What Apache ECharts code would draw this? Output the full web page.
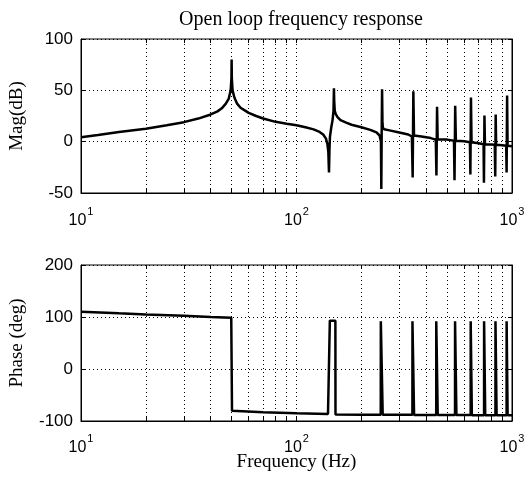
<!DOCTYPE html>
<html>
<head>
<meta charset="utf-8">
<script src="https://cdn.jsdelivr.net/npm/echarts@6/dist/echarts.min.js"></script>
<style>
  html, body { margin: 0; padding: 0; background: #fff; }
  #main { width: 531px; height: 482px; }
</style>
</head>
<body>
<div id="main"></div>
<script>
// magnitude response, frequency in Hz / dB
var magFreq = [10, 12, 15, 20, 25, 30, 35, 40, 43, 45, 47, 48.5, 49.5, 49.9, 50, 50.1, 50.5, 51.5, 53, 55, 58, 60, 65, 70, 80, 90, 100, 110, 120, 128, 133, 137, 139, 140.5, 141.5, 142.2, 143, 145, 147, 148.5, 149.2, 149.6, 150.5, 152, 155, 160, 170, 180, 200, 220, 235, 243, 246.5, 247.5, 248.5, 249.5, 250.5, 251.5, 255, 270, 300, 330, 343, 346, 348.5, 351, 380, 420, 443, 446, 449, 452, 500, 538, 541, 545, 549, 600, 638, 641, 645, 649, 700, 738, 741, 745, 749, 800, 832, 836, 840, 844, 900, 940, 944, 949, 954, 1000];
var magDb = [4.4, 6.5, 9.5, 12.5, 16, 19, 22.5, 26.5, 29.5, 32.5, 37, 42, 50, 62, 80, 62, 50, 43, 37, 33, 30, 28, 25, 22.6, 19.3, 17.5, 16, 14, 12, 9.5, 7, 3, -2, -10, -30, -8, 5, 14, 21, 30, 52, 40, 30, 27, 24, 21, 18.5, 16.5, 14, 11.5, 9, 6, 0, -46, 10, 51, 20, 14, 12, 11, 9, 7, 5, -35, 49, 6, 5, 3.5, 2, -33, 34, 2, 2, 1, -37.5, 35, 1, 0.3, -0.5, -32, 43, -0.5, -1.5, -2.5, -40, 25.5, -2.5, -2.8, -3, -34, 26.5, -3, -3.5, -4, -30, 45, -4, -4.5];

// phase response, frequency in Hz / deg
var phaseFreq = [10, 15, 20, 30, 40, 49.8, 50.2, 70, 100, 140, 142.6, 142.8, 151.5, 151.7, 200, 246, 246.2, 251, 251.2, 345, 345.2, 351, 351.2, 445, 445.2, 452, 452.2, 544, 544.2, 552, 552.2, 643, 643.2, 651, 651.2, 742, 742.2, 751, 751.2, 838, 838.2, 848, 848.2, 944, 944.2, 954, 954.2, 1000];
var phaseDeg = [110, 107, 105, 102.5, 100, 98.5, -80.5, -83, -85, -86.5, -86.5, 93, 93, -87.5, -88, -88, 91.7, 91.7, -88, -88, 91.7, 91.7, -88.5, -88.5, 91.7, 91.7, -88.5, -88.5, 91.7, 91.7, -88.5, -88.5, 91.7, 91.7, -89, -89, 91.7, 91.7, -89, -89, 91.7, 91.7, -89, -89, 91.7, 91.7, -89, -89];

var gridFreqs = [20, 30, 40, 50, 60, 70, 80, 90, 100, 200, 300, 400, 500, 600, 700, 800, 900];
var magTicks = [-50, 100, 50];     // min, max, interval
var phaseTicks = [-100, 200, 100];

var titleText = 'Open loop frequency response';
var magName = 'Mag(dB)';
var phaseName = 'Phase (deg)';
var freqName = 'Frequency (Hz)';

var serif = 'Liberation Serif';
var sans = 'Liberation Sans';

function zip(a, b) {
  return a.map(function (v, i) { return [v, b[i]]; });
}

// dotted grid lines plus little inside ticks at the log positions
function gridMarks(range, plotH) {
  var len = (range[1] - range[0]) * 4 / plotH;
  var data = gridFreqs.map(function (f) {
    return { xAxis: f };
  });
  gridFreqs.forEach(function (f) {
    data.push([{ coord: [f, range[0]], lineStyle: { type: 'solid', width: 1 } },
               { coord: [f, range[0] + len] }]);
    data.push([{ coord: [f, range[1]], lineStyle: { type: 'solid', width: 1 } },
               { coord: [f, range[1] - len] }]);
  });
  return {
    silent: true,
    symbol: ['none', 'none'],
    animation: false,
    label: { show: false },
    lineStyle: { color: '#000', type: [1, 3], width: 1 },
    data: data
  };
}

function xAx(idx, name, gap) {
  return {
    type: 'log',
    logBase: 10,
    gridIndex: idx,
    min: 10,
    max: 1000,
    name: name,
    nameLocation: 'middle',
    nameGap: 32,
    nameMoveOverlap: false,
    nameTextStyle: { fontFamily: serif, fontSize: 19, color: '#000' },
    axisLine: { onZero: false, lineStyle: { color: '#000' } },
    axisTick: { show: false },
    splitLine: { show: false },
    axisLabel: {
      margin: gap,
      color: '#000',
      formatter: function (v) {
        var e = Math.round(Math.log(v) / Math.LN10);
        return '{b|10}{s|' + e + '}';
      },
      rich: {
        b: { fontFamily: sans, fontSize: 16, lineHeight: 16, verticalAlign: 'bottom', color: '#000' },
        s: { fontFamily: sans, fontSize: 11, lineHeight: 11, padding: [0, 0, 12, 1], verticalAlign: 'bottom', color: '#000' }
      }
    }
  };
}

function yAx(idx, r, name, right) {
  return {
    type: 'value',
    gridIndex: idx,
    position: right ? 'right' : 'left',
    min: r[0],
    max: r[1],
    interval: r[2],
    name: right ? '' : name,
    nameLocation: 'middle',
    nameGap: 54,
    nameTextStyle: { fontFamily: serif, fontSize: 19, color: '#000' },
    axisLine: { show: true, onZero: false, lineStyle: { color: '#000' } },
    axisTick: { show: true, inside: true, length: 4, lineStyle: { color: '#000' } },
    axisLabel: { show: !right, color: '#000', fontFamily: sans, fontSize: 17, margin: 8 },
    splitLine: { show: !right, lineStyle: { color: '#000', type: [1, 3], width: 1 } }
  };
}

var chart = echarts.init(document.getElementById('main'));
var option = {
  animation: false,
  backgroundColor: '#fff',
  title: {
    text: titleText,
    left: 296,
    textAlign: 'center',
    top: 5,
    textStyle: { fontFamily: serif, fontSize: 20, fontWeight: 'normal', color: '#000' }
  },
  grid: [
    { left: 77, right: 19, top: 39, height: 154, show: true, borderColor: '#000', borderWidth: 1 },
    { left: 77, right: 19, top: 265, height: 156, show: true, borderColor: '#000', borderWidth: 1 }
  ],
  xAxis: [xAx(0, '', 20), xAx(1, freqName, 19)],
  yAxis: [
    yAx(0, magTicks, magName, false),
    yAx(0, magTicks, magName, true),
    yAx(1, phaseTicks, phaseName, false),
    yAx(1, phaseTicks, phaseName, true)
  ],
  series: [
    {
      type: 'line',
      xAxisIndex: 0,
      yAxisIndex: 0,
      data: zip(magFreq, magDb),
      showSymbol: false,
      symbol: 'none',
      lineStyle: { color: '#000', width: 2.5 },
      markLine: gridMarks(magTicks, 154),
      z: 3
    },
    {
      type: 'line',
      xAxisIndex: 1,
      yAxisIndex: 2,
      data: zip(phaseFreq, phaseDeg),
      showSymbol: false,
      symbol: 'none',
      lineStyle: { color: '#000', width: 2.5 },
      markLine: gridMarks(phaseTicks, 156),
      z: 3
    }
  ]
};
chart.setOption(option);
</script>
</body>
</html>
